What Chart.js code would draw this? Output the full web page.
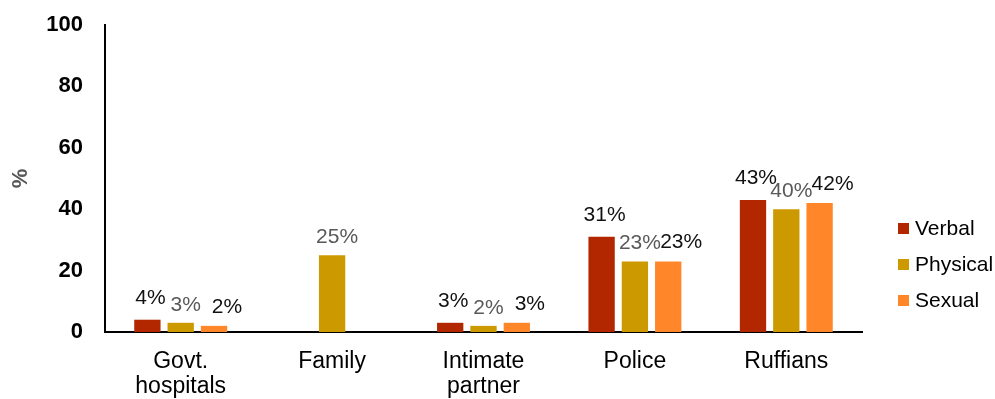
<!DOCTYPE html>
<html>
<head>
<meta charset="utf-8">
<script src="https://cdn.jsdelivr.net/npm/chart.js@4.4.1/dist/chart.umd.min.js"></script>
<style>
  html, body { margin: 0; padding: 0; background: #fff; }
  #wrap { width: 995px; height: 399px; }
</style>
</head>
<body>
<div id="wrap"><canvas id="abuseChart" width="995" height="399"></canvas></div>
<script>
// perpetrators of abuse, % reporting each type
var categories = [['Govt.', 'hospitals'], 'Family', ['Intimate', 'partner'], 'Police', 'Ruffians'];
var verbal = [4, null, 3, 31, 43];
var physical = [3, 25, 2, 23, 40];
var sexual = [2, null, 3, 23, 42];
var yTicks = [0, 20, 40, 60, 80, 100];

var FONT = "'Liberation Sans', Arial, sans-serif";

// value labels above each bar
var barLabels = {
    id: 'barLabels',
    afterDatasetsDraw: function(chart) {
        var ctx = chart.ctx;
        ctx.save();
        ctx.font = '21px ' + FONT;
        ctx.textAlign = 'center';
        ctx.textBaseline = 'middle';
        chart.data.datasets.forEach(function(ds, i) {
            var meta = chart.getDatasetMeta(i);
            meta.data.forEach(function(bar, j) {
                var v = ds.data[j];
                if (v === null || v === undefined) return;
                ctx.fillStyle = ds.labelColor;
                ctx.fillText(v + '%', bar.x + ds.labelDx, bar.y - ds.labelDy);
            });
        });
        ctx.restore();
    }
};

// legend on the right, drawn by hand so it sits low beside the plot
var sideLegend = {
    id: 'sideLegend',
    afterDraw: function(chart) {
        var ctx = chart.ctx;
        ctx.save();
        ctx.font = '21px ' + FONT;
        ctx.textBaseline = 'middle';
        chart.data.datasets.forEach(function(ds, i) {
            var y = 228 + i * 36;
            ctx.fillStyle = ds.backgroundColor;
            ctx.fillRect(898, y - 5, 11, 11);
            ctx.fillStyle = '#000';
            ctx.fillText(ds.label, 915, y + 1);
        });
        ctx.restore();
    }
};

var ctx = document.getElementById('abuseChart').getContext('2d');
var chart = new Chart(ctx, {
    type: 'bar',
    data: {
        labels: categories,
        datasets: [{
            label: 'Verbal',
            data: verbal,
            backgroundColor: '#B22600',
            labelColor: '#111',
            labelDx: 3,
            labelDy: 22
        }, {
            label: 'Physical',
            data: physical,
            backgroundColor: '#CC9900',
            labelColor: '#595959',
            labelDx: 5,
            labelDy: 18
        }, {
            label: 'Sexual',
            data: sexual,
            backgroundColor: '#FF8629',
            labelColor: '#111',
            labelDx: 13,
            labelDy: 19
        }]
    },
    options: {
        responsive: false,
        animation: false,
        layout: {
            padding: { left: 4, right: 133, top: 25, bottom: 0 }
        },
        categoryPercentage: 0.66,
        barPercentage: 0.79,
        scales: {
            x: {
                afterFit: function(axis) {
                    axis.height = 67;
                    axis.paddingLeft = 0;
                    axis.paddingRight = 0;
                },
                grid: { display: false, drawTicks: false },
                border: { display: true, color: '#000', width: 2 },
                ticks: {
                    color: '#000',
                    padding: 18,
                    maxRotation: 0,
                    font: { family: FONT, size: 23, lineHeight: 1.05 }
                }
            },
            y: {
                min: 0,
                max: 100,
                afterBuildTicks: function(axis) {
                    axis.ticks = yTicks.map(function(v) { return { value: v }; });
                },
                afterFit: function(axis) {
                    axis.width = 101;
                    axis.paddingTop = 0;
                    axis.paddingBottom = 0;
                },
                grid: { display: false, drawTicks: false },
                border: { display: true, color: '#000', width: 2 },
                ticks: {
                    color: '#000',
                    padding: 22,
                    font: { family: FONT, size: 22, weight: 'bold' }
                },
                title: {
                    display: true,
                    text: '%',
                    color: '#595959',
                    padding: { top: 4, bottom: 12 },
                    font: { family: FONT, size: 22, weight: 'bold' }
                }
            }
        },
        plugins: {
            legend: { display: false },
            tooltip: { enabled: false }
        }
    },
    plugins: [barLabels, sideLegend]
});
</script>
</body>
</html>
